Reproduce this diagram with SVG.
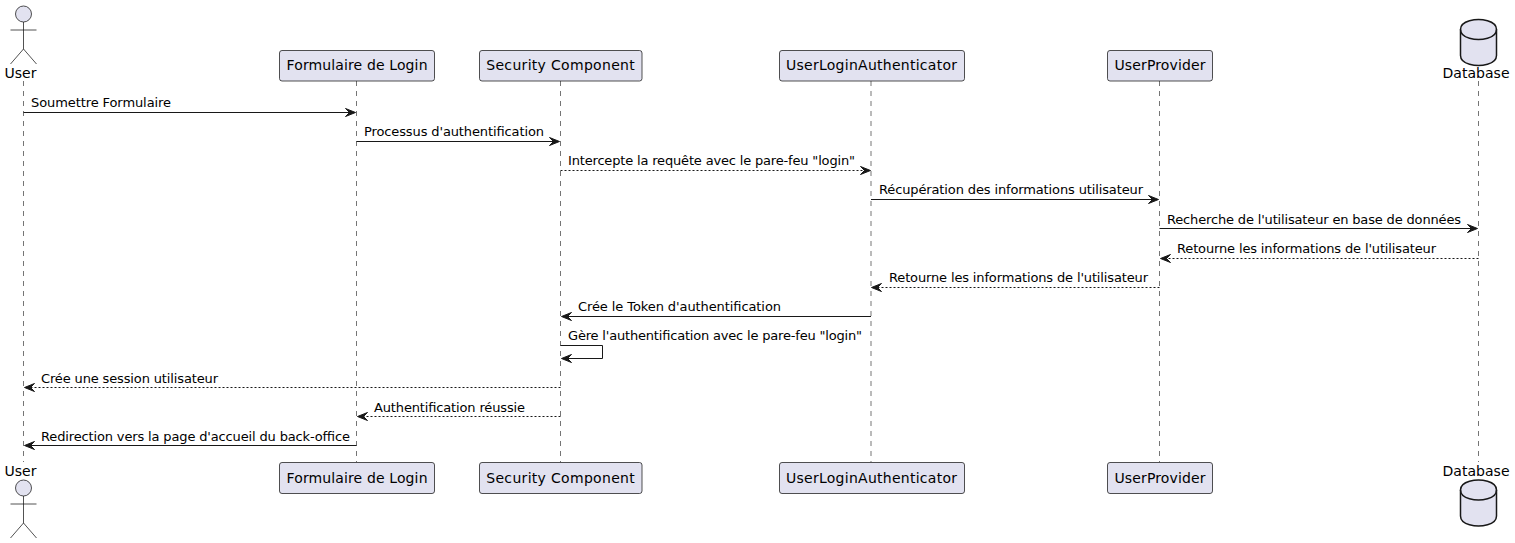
<svg xmlns="http://www.w3.org/2000/svg" width="1515" height="543" viewBox="0 0 1515 543">
<style>
text{font-family:"DejaVu Sans",sans-serif;fill:#000}
.p{font-size:14px;text-anchor:middle}
.m{font-size:13px}
.b{fill:#E2E2F0;stroke:#181818;stroke-width:.75}
.a{fill:#E2E2F0;stroke:#181818;stroke-width:.75}
.al{fill:none;stroke:#181818;stroke-width:.75}
.d{fill:#E2E2F0;stroke:#181818;stroke-width:1.5}
.l{stroke:#181818;stroke-width:.6;stroke-dasharray:5,5;fill:none}
.s{stroke:#181818;stroke-width:1;fill:none}
.da{stroke-dasharray:2,2}
.h{fill:#181818;stroke:#181818;stroke-width:1}
</style>
<defs>
<g id="actor"><circle class="a" cx="0" cy="0" r="8"/><path class="al" d="M0,8V35M-13,16H13M0,35L-13,50M0,35L13,50"/></g>
<g id="db"><path class="d" d="M-18,10C-18,0 0,0 0,0C0,0 18,0 18,10V36C18,46 0,46 0,46C0,46 -18,46 -18,36Z"/><path class="d" style="fill:none" d="M-18,10C-18,20 0,20 0,20C0,20 18,20 18,10"/></g>
<path id="hr" class="h" d="M0,0L-10,-4L-6,0L-10,4Z"/>
<path id="hl" class="h" d="M0,0L10,-4L6,0L10,4Z"/>
</defs>
<g id="lifelines">
<path class="l" d="M23.5,81V462M356.5,81V462M560.5,81V462M871,81V462M1159.5,81V462M1478.5,81V462"/>
</g>
<g id="connectors">
<path class="s" d="M23.5,112.500H350"/><use href="#hr" x="355.500" y="112.500"/>
<path class="s" d="M356.5,141.500H554"/><use href="#hr" x="559.500" y="141.500"/>
<path class="s da" d="M560.5,170.500H865"/><use href="#hr" x="870.500" y="170.500"/>
<path class="s" d="M871,199.500H1153"/><use href="#hr" x="1158.500" y="199.500"/>
<path class="s" d="M1159.5,228.500H1472"/><use href="#hr" x="1477.500" y="228.500"/>
<path class="s da" d="M1478.5,258.500H1166"/><use href="#hl" x="1160.500" y="258.500"/>
<path class="s da" d="M1159.5,287.500H877"/><use href="#hl" x="871.500" y="287.500"/>
<path class="s" d="M871,316.500H567"/><use href="#hl" x="561.500" y="316.500"/>
<path class="s" d="M560.5,345.500H602.500V358.500H567"/><use href="#hl" x="561.500" y="358.500"/>
<path class="s da" d="M560.5,387.500H30"/><use href="#hl" x="24.500" y="387.500"/>
<path class="s da" d="M560.5,416.500H363"/><use href="#hl" x="357.500" y="416.500"/>
<path class="s" d="M356.5,445.500H30"/><use href="#hl" x="24.500" y="445.500"/>
</g>
<g id="labels">
<text class="m" x="31" y="107" textLength="140">Soumettre Formulaire</text>
<text class="m" x="364" y="136" textLength="180">Processus d'authentification</text>
<text class="m" x="568" y="165" textLength="287">Intercepte la requête avec le pare-feu "login"</text>
<text class="m" x="879" y="194" textLength="264">Récupération des informations utilisateur</text>
<text class="m" x="1167" y="224" textLength="294">Recherche de l'utilisateur en base de données</text>
<text class="m" x="1177" y="253" textLength="259">Retourne les informations de l'utilisateur</text>
<text class="m" x="889" y="282" textLength="259">Retourne les informations de l'utilisateur</text>
<text class="m" x="578" y="311" textLength="203">Crée le Token d'authentification</text>
<text class="m" x="568" y="340" textLength="294">Gère l'authentification avec le pare-feu "login"</text>
<text class="m" x="41" y="383" textLength="177">Crée une session utilisateur</text>
<text class="m" x="374" y="412" textLength="151">Authentification réussie</text>
<text class="m" x="41" y="441" textLength="309">Redirection vers la page d'accueil du back-office</text>
</g>
<g id="user-top"><use href="#actor" x="23.500" y="14"/><text class="p" x="20.500" y="78">User</text></g>
<g id="user-bottom"><text class="p" x="20.500" y="476">User</text><use href="#actor" x="23.500" y="488"/></g>
<g id="formulaire-top"><rect class="b" x="279.500" y="50.500" width="155" height="30.500" rx="2.500"/><text class="p" x="357" y="70" textLength="141">Formulaire de Login</text></g>
<g id="formulaire-bottom"><rect class="b" x="279.500" y="462.500" width="155" height="31" rx="2.500"/><text class="p" x="357" y="483" textLength="141">Formulaire de Login</text></g>
<g id="security-top"><rect class="b" x="479.500" y="50.500" width="162.500" height="30.500" rx="2.500"/><text class="p" x="560.500" y="70" textLength="148.500">Security Component</text></g>
<g id="security-bottom"><rect class="b" x="479.500" y="462.500" width="162.500" height="31" rx="2.500"/><text class="p" x="560.500" y="483" textLength="148.500">Security Component</text></g>
<g id="authenticator-top"><rect class="b" x="779.500" y="50.500" width="185" height="30.500" rx="2.500"/><text class="p" x="871.500" y="70" textLength="171">UserLoginAuthenticator</text></g>
<g id="authenticator-bottom"><rect class="b" x="779.500" y="462.500" width="185" height="31" rx="2.500"/><text class="p" x="871.500" y="483" textLength="171">UserLoginAuthenticator</text></g>
<g id="provider-top"><rect class="b" x="1107.500" y="50.500" width="105" height="30.500" rx="2.500"/><text class="p" x="1160" y="70" textLength="91">UserProvider</text></g>
<g id="provider-bottom"><rect class="b" x="1107.500" y="462.500" width="105" height="31" rx="2.500"/><text class="p" x="1160" y="483" textLength="91">UserProvider</text></g>
<g id="database-top"><use href="#db" x="1478.500" y="19.500"/><text class="p" x="1476" y="78" textLength="67">Database</text></g>
<g id="database-bottom"><text class="p" x="1476" y="476" textLength="67">Database</text><use href="#db" x="1478.500" y="480"/></g>
</svg>
